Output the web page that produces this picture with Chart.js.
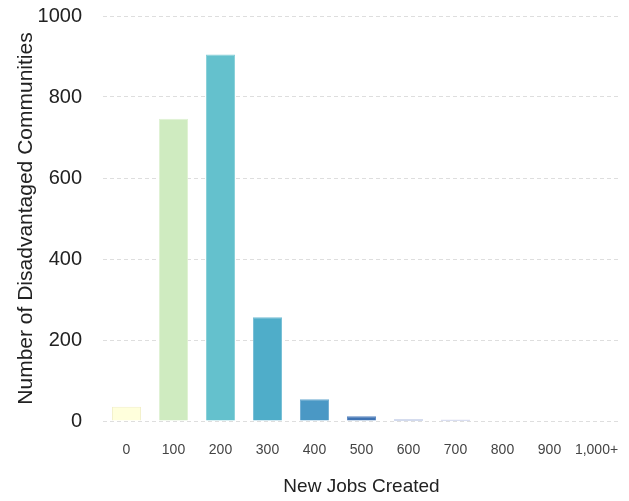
<!DOCTYPE html>
<html>
<head>
<meta charset="utf-8">
<script src="https://cdn.jsdelivr.net/npm/chart.js@4/dist/chart.umd.min.js"></script>
<style>
  html, body { margin: 0; padding: 0; background: #ffffff; }
  #wrap { width: 629px; height: 501px; }
</style>
</head>
<body>
<div id="wrap"><canvas id="jobs-chart" width="629" height="501"></canvas></div>
<script>
// --- data ---
const jobBins = ['0', '100', '200', '300', '400', '500', '600', '700', '800', '900', '1,000+'];
const communityCounts = [35, 746, 905, 256, 54, 12, 4, 3, 0, 0, 0];
const yTicks = [0, 200, 400, 600, 800, 1000];

// YlGnBu-ish ramp, one per bar
const barColors = ['#ffffdc', '#cfebc0', '#64c1cd', '#4fadc9', '#4a98c5', '#3f73b3', '#4b6cb8', '#5a6dbf', '#34459a', '#27357f', '#1b2a6b'];
const barBorders = ['#f2efc8', '#dff2d3', '#86cfd8', '#74bdd5', '#6eacd2', '#5a86c0', '#5a74bd', '#6a78c2', '#5a68ad', '#4f5c98', '#46548a'];

const FONT = '"Liberation Sans", Arial, Helvetica, sans-serif';

const ctx = document.getElementById('jobs-chart').getContext('2d');
const jobsChart = new Chart(ctx, {
    type: 'bar',
    data: {
        labels: jobBins,
        datasets: [{
            data: communityCounts,
            backgroundColor: barColors,
            borderColor: barBorders,
            borderWidth: 1,
            borderSkipped: 'bottom',
            categoryPercentage: 1.0,
            barPercentage: 0.62
        }]
    },
    options: {
        responsive: false,
        animation: false,
        layout: { padding: { top: 16, right: 9, left: 0, bottom: 0 } },
        plugins: {
            legend: { display: false },
            tooltip: { enabled: false }
        },
        scales: {
            x: {
                grid: { display: false, drawTicks: false },
                border: { display: false },
                ticks: {
                    color: '#444444',
                    padding: 21,
                    maxRotation: 0,
                    autoSkip: false,
                    font: { family: FONT, size: 14 }
                },
                title: {
                    display: true,
                    text: 'New Jobs Created',
                    color: '#222222',
                    padding: { top: 0, bottom: 3 },
                    font: { family: FONT, size: 19 }
                },
                afterFit: scale => {
                    scale.height = 80;
                    scale.paddingLeft = 0;
                    scale.paddingRight = 0;
                }
            },
            y: {
                min: 0,
                max: 1000,
                afterBuildTicks: scale => { scale.ticks = yTicks.map(v => ({ value: v })); },
                grid: {
                    color: '#dedede',
                    lineWidth: 1,
                    drawTicks: false,
                    tickLength: 0
                },
                border: { display: false, dash: [4, 3] },
                ticks: {
                    color: '#222222',
                    padding: 21,
                    font: { family: FONT, size: 20 },
                    callback: value => String(value)
                },
                title: {
                    display: true,
                    text: 'Number of Disadvantaged Communities',
                    color: '#222222',
                    padding: { top: 14, bottom: 0 },
                    font: { family: FONT, size: 21 }
                },
                afterFit: scale => {
                    scale.width = 103;
                    scale.paddingTop = 0;
                    scale.paddingBottom = 0;
                }
            }
        }
    }
});
</script>
</body>
</html>
